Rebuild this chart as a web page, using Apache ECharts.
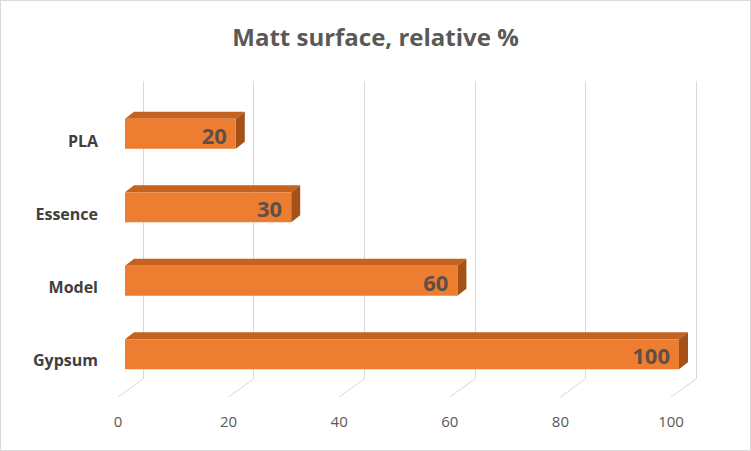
<!DOCTYPE html>
<html>
<head>
<meta charset="utf-8">
<script src="https://cdn.jsdelivr.net/npm/echarts@6/dist/echarts.min.js"></script>
<style>
html,body{margin:0;padding:0;background:#fff;}
#c{width:751px;height:451px;box-sizing:border-box;border:1px solid #d9d9d9;}
</style>
</head>
<body>
<div id="c"></div>
<script>
const titleText = 'Matt surface, relative %';
const categories = ['Gypsum', 'Model', 'Essence', 'PLA'];
const values = [100, 60, 30, 20];
const tickValues = [0, 20, 40, 60, 80, 100];
const axisMin = 0, axisMax = 100, axisInterval = 20;

const FONT = '"Open Sans", "Noto Sans", sans-serif';
const DEPTH_X = 9, DEPTH_Y = 7;     // bar depth (3D look)
const FLOOR_X = 25, FLOOR_Y = 18;   // floor depth

const chart = echarts.init(document.getElementById('c'), null, {renderer: 'svg'});

chart.setOption({
  animation: false,
  title: {
    text: titleText, left: 'center', top: 18,
    textStyle: {fontFamily: FONT, fontSize: 24, fontWeight: 'bold', color: '#595959'}
  },
  grid: [
    {left: 124, right: 71, top: 96, bottom: 59},   // bar plane
    {left: 117, right: 79, top: 104, bottom: 54},  // front plane (labels)
    {left: 142, right: 54, top: 80, bottom: 71}    // back wall
  ],
  xAxis: [
    {gridIndex: 0, type: 'value', min: axisMin, max: axisMax, interval: axisInterval,
     show: false},
    {gridIndex: 1, type: 'value', min: axisMin, max: axisMax, interval: axisInterval,
     axisLine: {show: false}, axisTick: {show: false}, splitLine: {show: false},
     axisLabel: {margin: 17, fontFamily: FONT, fontSize: 15, color: '#595959'}},
    {gridIndex: 2, type: 'value', min: axisMin, max: axisMax, interval: axisInterval,
     axisLine: {show: false}, axisTick: {show: false}, axisLabel: {show: false},
     splitLine: {show: true, lineStyle: {color: '#d9d9d9', width: 1}}}
  ],
  yAxis: [
    {gridIndex: 0, type: 'category', data: categories, show: false},
    {gridIndex: 1, type: 'category', data: categories,
     axisLine: {show: false}, axisTick: {show: false}, splitLine: {show: false},
     axisLabel: {margin: 20, fontFamily: FONT, fontSize: 16, fontWeight: 'bold', color: '#404040'}},
    {gridIndex: 2, type: 'value', min: 0, max: 1, show: false}
  ],
  series: [
    {
      type: 'custom', xAxisIndex: 2, yAxisIndex: 2, silent: true,
      data: tickValues.map(v => [v, 0]),
      renderItem: function (params, api) {
        const p = api.coord([api.value(0), 0]);
        return {
          type: 'line',
          shape: {x1: p[0], y1: p[1], x2: p[0] - FLOOR_X, y2: p[1] + FLOOR_Y},
          style: {stroke: '#d9d9d9', lineWidth: 1}
        };
      }
    },
    {
      type: 'custom', xAxisIndex: 0, yAxisIndex: 0, silent: true,
      encode: {x: 0, y: 1},
      data: values.map((v, i) => [v, categories[i]]),
      renderItem: function (params, api) {
        const v = api.value(0);
        const idx = api.value(1);
        const s = api.coord([0, idx]);
        const e = api.coord([v, idx]);
        const h = api.size([0, 1])[1] * 0.405;
        const yt = e[1] - h / 2, yb = e[1] + h / 2;
        const x0 = s[0], x1 = e[0];
        return {
          type: 'group',
          children: [
            {type: 'polygon', shape: {points: [[x0, yt], [x0 + DEPTH_X, yt - DEPTH_Y], [x1 + DEPTH_X, yt - DEPTH_Y], [x1, yt]]},
             style: {fill: '#C4621F'}},
            {type: 'polygon', shape: {points: [[x1, yt], [x1 + DEPTH_X, yt - DEPTH_Y], [x1 + DEPTH_X, yb - DEPTH_Y], [x1, yb]]},
             style: {fill: '#A4521A'}},
            {type: 'rect', shape: {x: x0, y: yt, width: x1 - x0, height: h},
             style: {fill: '#ED7D31'}},
            {type: 'text', x: x1 - 9, y: e[1] + 1,
             style: {text: String(v), fill: '#5e5048', font: 'bold 22px ' + FONT,
                     align: 'right', verticalAlign: 'middle'}}
          ]
        };
      }
    }
  ]
});
</script>
</body>
</html>
